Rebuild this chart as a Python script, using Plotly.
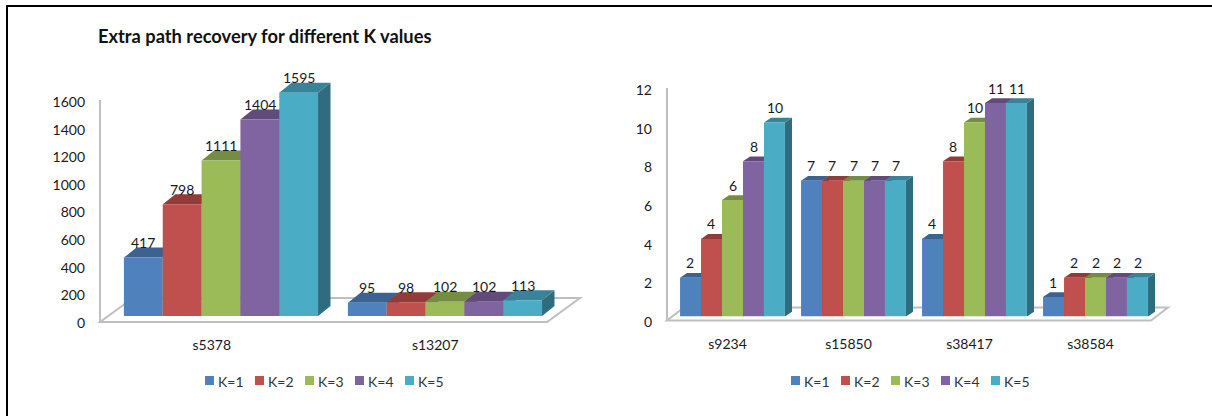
import plotly.graph_objects as go

W, H = 1212, 416

series_names = ["K=1", "K=2", "K=3", "K=4", "K=5"]
front_colors = ["#4F81BD", "#C0504D", "#9BBB59", "#8064A2", "#4BACC6"]
top_colors = ["#3C6291", "#933B38", "#748D42", "#614B7B", "#38829A"]
side_colors = ["#2F4E74", "#76302D", "#5D7135", "#4E3C63", "#2F6C7E"]

left_categories = ["s5378", "s13207"]
left_k1 = [417, 95]
left_k2 = [798, 98]
left_k3 = [1111, 102]
left_k4 = [1404, 102]
left_k5 = [1595, 113]
left_ticks = [0, 200, 400, 600, 800, 1000, 1200, 1400, 1600]

right_categories = ["s9234", "s15850", "s38417", "s38584"]
right_k1 = [2, 7, 4, 1]
right_k2 = [4, 7, 8, 2]
right_k3 = [6, 7, 10, 2]
right_k4 = [8, 7, 11, 2]
right_k5 = [10, 7, 11, 2]
right_ticks = [0, 2, 4, 6, 8, 10, 12]

FONT = "Lato, Carlito, sans-serif"
TEXT = "#1a1a1a"
FLOOR = "#BFBFBF"


def px_x(v):
    return v / W


def px_y(v):
    return 1 - v / H


fig = go.Figure()
shapes = []
annotations = []


def panel(idx, categories, rows, ticks, plane, bars, bar_top, depth, bargap, floor, label_shift, legend_x):
    """Draw one pseudo-3D clustered column panel.

    idx 1/3 -> visible axes of the front plane, idx+1 -> hidden axes carrying the columns.
    """
    ax_suffix = "" if idx == 1 else str(idx)
    bar_suffix = str(idx + 1)
    n = len(categories)
    x0, x1, y0, y1 = plane
    bx0, bx1, by0 = bars
    scale_top, scale_val = bar_top

    fig.update_layout(**{
        f"xaxis{ax_suffix}": dict(
            domain=[px_x(x0), px_x(x1)], range=[-0.5, n - 0.5], anchor=f"y{ax_suffix}",
            tickmode="array", tickvals=list(range(n)), ticktext=categories,
            showgrid=False, zeroline=False, showline=False, ticks="", automargin=False,
            ticklabelstandoff=12, tickfont=dict(family=FONT, size=14, color=TEXT),
        ),
        f"yaxis{ax_suffix}": dict(
            domain=[px_y(y0), px_y(y1)], range=[0, ticks[-1]], anchor=f"x{ax_suffix}",
            tickmode="array", tickvals=ticks,
            showgrid=False, zeroline=False, showline=False, ticks="", automargin=False,
            ticklabelstandoff=14, tickfont=dict(family=FONT, size=14, color=TEXT),
        ),
        f"xaxis{bar_suffix}": dict(
            domain=[px_x(bx0), px_x(bx1)], range=[-0.5, n - 0.5], anchor=f"y{bar_suffix}",
            visible=False, automargin=False,
        ),
        f"yaxis{bar_suffix}": dict(
            domain=[px_y(by0), px_y(by0 - scale_top)], range=[0, scale_val], anchor=f"x{bar_suffix}",
            visible=False, automargin=False,
        ),
    })

    # An empty trace keeps the front-plane axes alive so their labels are drawn.
    fig.add_trace(go.Scatter(
        x=[None], y=[None], xaxis=f"x{ax_suffix}", yaxis=f"y{ax_suffix}",
        mode="markers", showlegend=False, hoverinfo="skip",
    ))

    # Floor and back wall outline, in page coordinates since they are only furniture.
    (fl, fr, fy, bl, br, by) = floor
    shapes.append(dict(
        type="path", xref="paper", yref="paper", layer="below",
        path=f"M {px_x(fl)} {px_y(fy)} L {px_x(fr)} {px_y(fy)} L {px_x(br)} {px_y(by)} L {px_x(bl)} {px_y(by)} Z",
        fillcolor="white", line=dict(color=FLOOR, width=2),
    ))
    shapes.append(dict(
        type="line", xref="paper", yref="paper", layer="below",
        x0=px_x(fl), x1=px_x(fl), y0=px_y(fy), y1=px_y(y1 - 2),
        line=dict(color=FLOOR, width=2),
    ))

    px_per_cat = (bx1 - bx0) / n
    px_per_val = scale_top / scale_val
    ddx = depth[0] / px_per_cat
    ddy = depth[1] / px_per_val
    group = 1 - bargap
    w = group / len(rows)
    xr = f"x{bar_suffix}"
    yr = f"y{bar_suffix}"

    for k, values in enumerate(rows):
        fig.add_trace(go.Bar(
            x=list(range(n)), y=values, name=series_names[k],
            marker=dict(color=front_colors[k], line=dict(width=0)),
            xaxis=xr, yaxis=yr, showlegend=False,
        ))
        for i, v in enumerate(values):
            left = i - group / 2 + k * w
            right = left + w
            shapes.append(dict(
                type="path", xref=xr, yref=yr, layer="below", line=dict(width=0),
                fillcolor=side_colors[k],
                path=f"M {right} 0 L {right + ddx} {ddy} L {right + ddx} {v + ddy} L {right} {v} Z",
            ))
            shapes.append(dict(
                type="path", xref=xr, yref=yr, layer="below", line=dict(width=0),
                fillcolor=top_colors[k],
                path=f"M {left} {v} L {left + ddx} {v + ddy} L {right + ddx} {v + ddy} L {right} {v} Z",
            ))
            annotations.append(dict(
                x=(left + right) / 2, y=v, xref=xr, yref=yr, text=str(v), showarrow=False,
                yshift=label_shift, font=dict(family=FONT, size=14, color=TEXT),
            ))

    # Key below the panel.
    for k, name in enumerate(series_names):
        sx = legend_x + k * 50
        shapes.append(dict(
            type="rect", xref="paper", yref="paper", layer="below",
            x0=px_x(sx), x1=px_x(sx + 9), y0=px_y(385), y1=px_y(376),
            fillcolor=front_colors[k], line=dict(width=0),
        ))
        annotations.append(dict(
            x=px_x(sx + 11), y=px_y(381.5), xref="paper", yref="paper", text=name,
            showarrow=False, xanchor="left", yanchor="middle",
            font=dict(family=FONT, size=14, color="#333333"),
        ))


panel(
    1, left_categories, [left_k1, left_k2, left_k3, left_k4, left_k5], left_ticks,
    plane=(100, 547, 323, 102), bars=(109, 557, 316), bar_top=(252, 1800), depth=(12.5, 10),
    bargap=0.134, floor=(100, 547, 322, 133, 580, 298), label_shift=15, legend_x=205,
)
panel(
    3, right_categories, [right_k1, right_k2, right_k3, right_k4, right_k5], right_ticks,
    plane=(667, 1151, 322, 90), bars=(672, 1156, 316.5), bar_top=(271.6, 14), depth=(7, 4.8),
    bargap=0.132, floor=(667, 1151, 320.5, 684, 1168, 307.5), label_shift=15, legend_x=791,
)

# Page frame
shapes.append(dict(
    type="path", xref="paper", yref="paper", layer="below",
    path=f"M {px_x(7)} {px_y(H + 5)} L {px_x(7)} {px_y(6)} L {px_x(W + 5)} {px_y(6)}",
    line=dict(color="#000000", width=2),
))

annotations.append(dict(
    x=px_x(96), y=px_y(36), xref="paper", yref="paper", xanchor="left", yanchor="middle",
    text="<b>Extra path recovery for different K values</b>", showarrow=False,
    font=dict(family=FONT, size=18.3, color="#111111"),
))

fig.update_layout(
    width=W, height=H, autosize=False, margin=dict(l=0, r=0, t=0, b=0, pad=0),
    paper_bgcolor="white", plot_bgcolor="rgba(0,0,0,0)",
    barmode="group", bargap=0.133, bargroupgap=0,
    shapes=shapes, annotations=annotations, showlegend=False,
)

fig.write_html("out.html", config=dict(displayModeBar=False))
